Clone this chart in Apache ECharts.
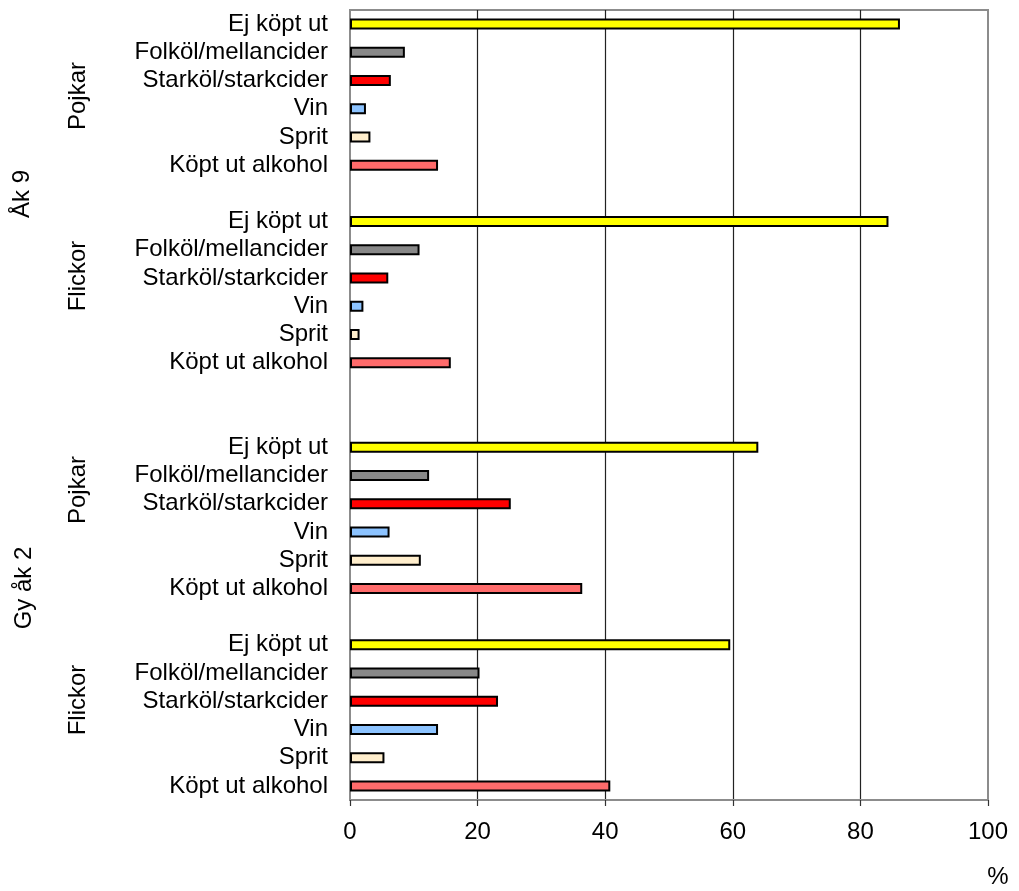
<!DOCTYPE html>
<html>
<head>
<meta charset="utf-8">
<script src="https://cdn.jsdelivr.net/npm/echarts@6/dist/echarts.min.js"></script>
<style>
  html, body { margin: 0; padding: 0; background: #fff; }
  #chart { width: 1019px; height: 891px; }
</style>
</head>
<body>
<div id="chart"></div>
<script>
// Purchase types, top to bottom within each group
const types = ['Ej köpt ut', 'Folköl/mellancider', 'Starköl/starkcider', 'Vin', 'Sprit', 'Köpt ut alkohol'];
const typeColors = ['#ffff00', '#888888', '#ff0000', '#8cc3ff', '#ffeecc', '#ff6b6b'];

// Percent per group (Åk 9 / Gy åk 2, boys / girls)
const ak9Pojkar  = [86.2,  8.6,  6.4,  2.5,  3.2, 13.8];
const ak9Flickor = [84.4, 10.9,  6.0,  2.1,  1.5, 15.8];
const gy2Pojkar  = [64.0, 12.4, 25.2,  6.2, 11.1, 36.4];
const gy2Flickor = [59.6, 20.3, 23.2, 13.8,  5.4, 40.8];

// Axis ticks
const xTicks = [0, 20, 40, 60, 80, 100];

// Groups in drawing order with the number of empty rows that follow each
const groups = [
  { values: ak9Pojkar,  gapAfter: 1 },
  { values: ak9Flickor, gapAfter: 2 },
  { values: gy2Pojkar,  gapAfter: 1 },
  { values: gy2Flickor, gapAfter: 0 }
];

const categories = [];
const barData = [];
groups.forEach(g => {
  g.values.forEach((v, i) => {
    categories.push(types[i]);
    barData.push({ value: v, itemStyle: { color: typeColors[i] } });
  });
  for (let k = 0; k < g.gapAfter; k++) {
    categories.push('');
    barData.push('-');
  }
});

const FONT = 'Liberation Sans';
const FS = 24;
const chart = echarts.init(document.getElementById('chart'), null, { renderer: 'canvas' });

function vText(text, x, y) {
  return {
    type: 'text',
    x: x, y: y,
    rotation: Math.PI / 2,
    style: {
      text: text,
      fill: '#000',
      font: FS + 'px "' + FONT + '"',
      align: 'center',
      verticalAlign: 'middle'
    }
  };
}

chart.setOption({
  animation: false,
  backgroundColor: '#ffffff',
  grid: {
    left: 350, right: 31, top: 10, bottom: 91,
    show: true,
    borderColor: '#8c8c8c',
    borderWidth: 2,
    containLabel: false
  },
  xAxis: {
    type: 'value',
    min: xTicks[0],
    max: xTicks[xTicks.length - 1],
    interval: 20,
    axisLine: { show: true, lineStyle: { color: '#8c8c8c', width: 2 } },
    axisTick: { show: true, inside: false, length: 6, lineStyle: { color: '#333', width: 1.2 } },
    axisLabel: { color: '#000', fontSize: FS, fontFamily: FONT, margin: 20 },
    splitLine: { show: true, showMinLine: false, showMaxLine: false, lineStyle: { color: '#222', width: 1.2 } }
  },
  yAxis: {
    type: 'category',
    inverse: true,
    data: categories,
    axisLine: { show: true, lineStyle: { color: '#8c8c8c', width: 2 } },
    axisTick: { show: false },
    axisLabel: { color: '#000', fontSize: FS, fontFamily: FONT, margin: 22, interval: 0 },
    splitLine: { show: false }
  },
  series: [{
    type: 'bar',
    data: barData,
    barWidth: 11,
    itemStyle: { borderColor: '#000', borderWidth: 2 }
  }],
  graphic: [
    vText('Pojkar', 78, 96),
    vText('Flickor', 78, 276),
    vText('Åk 9', 22, 194),
    vText('Pojkar', 78, 490),
    vText('Gy åk 2', 24, 588),
    vText('Flickor', 78, 700),
    {
      type: 'text',
      x: 998, y: 877,
      style: { text: '%', fill: '#000', font: FS + 'px "' + FONT + '"', align: 'center', verticalAlign: 'middle' }
    }
  ]
});
</script>
</body>
</html>
